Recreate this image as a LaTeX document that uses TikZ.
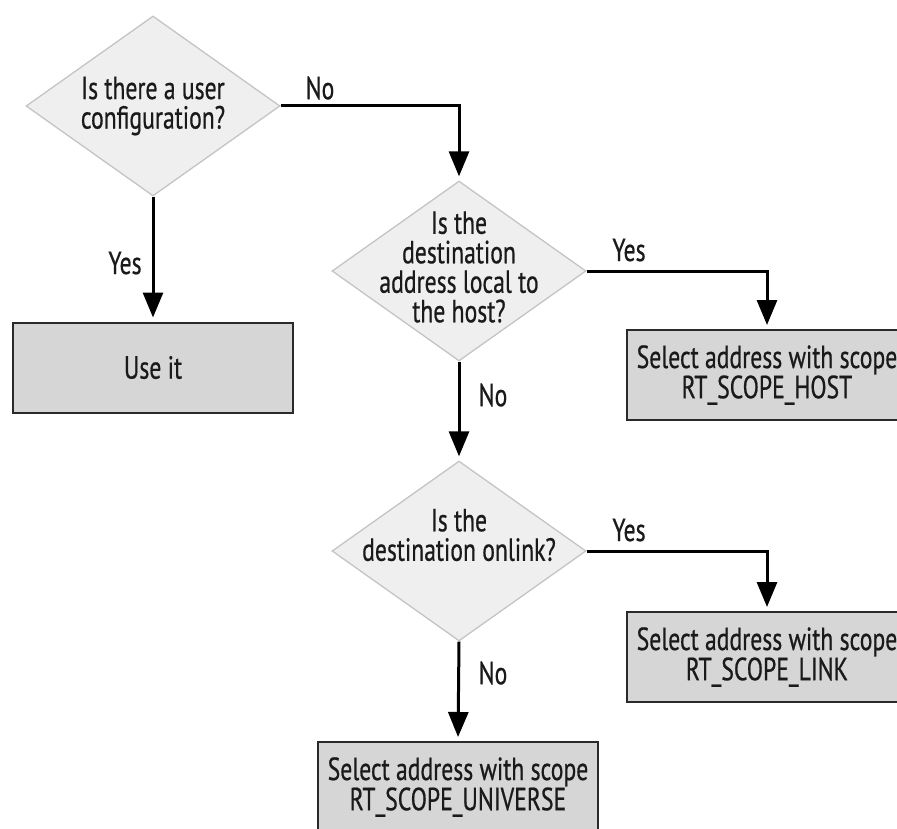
\documentclass[tikz,border=0pt]{standalone}
\usepackage{fontspec}
\setmainfont[FakeStretch=0.74,FakeBold=0.6]{PT Sans}
\usetikzlibrary{shapes.geometric,arrows.meta}
\definecolor{boxfill}{HTML}{D6D6D6}
\definecolor{diafill}{HTML}{EFEFEF}
\definecolor{diaedge}{HTML}{C4C4C4}
\definecolor{boxedge}{HTML}{2A2A2A}
\definecolor{txt}{HTML}{1A1A1A}
\tikzset{
  dia/.style={shape=diamond, draw=diaedge, fill=diafill, line width=1.3pt,
    minimum width=254pt, minimum height=180pt, inner sep=0pt},
  dtext/.style={align=center, font=\fontsize{32}{29.5}\selectfont, inner sep=0pt, text=txt},
  actbox/.style={draw=boxedge, fill=boxfill, line width=2pt, minimum width=280pt,
    minimum height=90pt, align=center, font=\fontsize{32}{29}\selectfont, inner sep=0pt, text=txt},
  arr/.style={line width=3pt, -{Triangle[length=25pt,width=20pt]}, shorten >=4pt},
  lbl/.style={font=\fontsize{32}{30}\selectfont, inner sep=0pt, text=txt}
}
\begin{document}
\begin{tikzpicture}[x=1pt,y=-1pt]
\useasboundingbox (0,0) rectangle (897,829);
\clip (0,0) rectangle (897,829);
\node[dia] (d1) at (153,106) {};
\node[dtext] (t1) at (153,106) {Is there a user\\configuration?};
\node[dia] (d2) at (459,271) {};
\node[dtext] (t2) at (459,267) {Is the\\destination\\address local to\\the host?};
\node[dia] (d3) at (459,551) {};
\node[dtext] (t3) at (459,535) {Is the\\destination onlink?};
\node[actbox] (use) at (153,367.5) {Use it};
\node[actbox] (host) at (767,375) {Select address with scope\\RT\_SCOPE\_HOST};
\node[actbox] (link) at (767,657) {Select address with scope\\RT\_SCOPE\_LINK};
\node[actbox] (univ) at (458,787) {Select address with scope\\RT\_SCOPE\_UNIVERSE};
\draw[arr] (d1.east) -| (d2.north);
\draw[arr] (d1.south) -- (use.north);
\draw[arr] (d2.east) -| (host.north);
\draw[arr] (d2.south) -- (d3.north);
\draw[arr] (d3.east) -| (link.north);
\draw[arr] (d3.south) -- (univ.north);
\node[lbl] (l1) at (320,88) {No};
\node[lbl] (l2) at (125,263) {Yes};
\node[lbl] (l3) at (629,250) {Yes};
\node[lbl] (l4) at (493,395) {No};
\node[lbl] (l5) at (629,530) {Yes};
\node[lbl] (l6) at (493,673) {No};
\end{tikzpicture}
\end{document}
